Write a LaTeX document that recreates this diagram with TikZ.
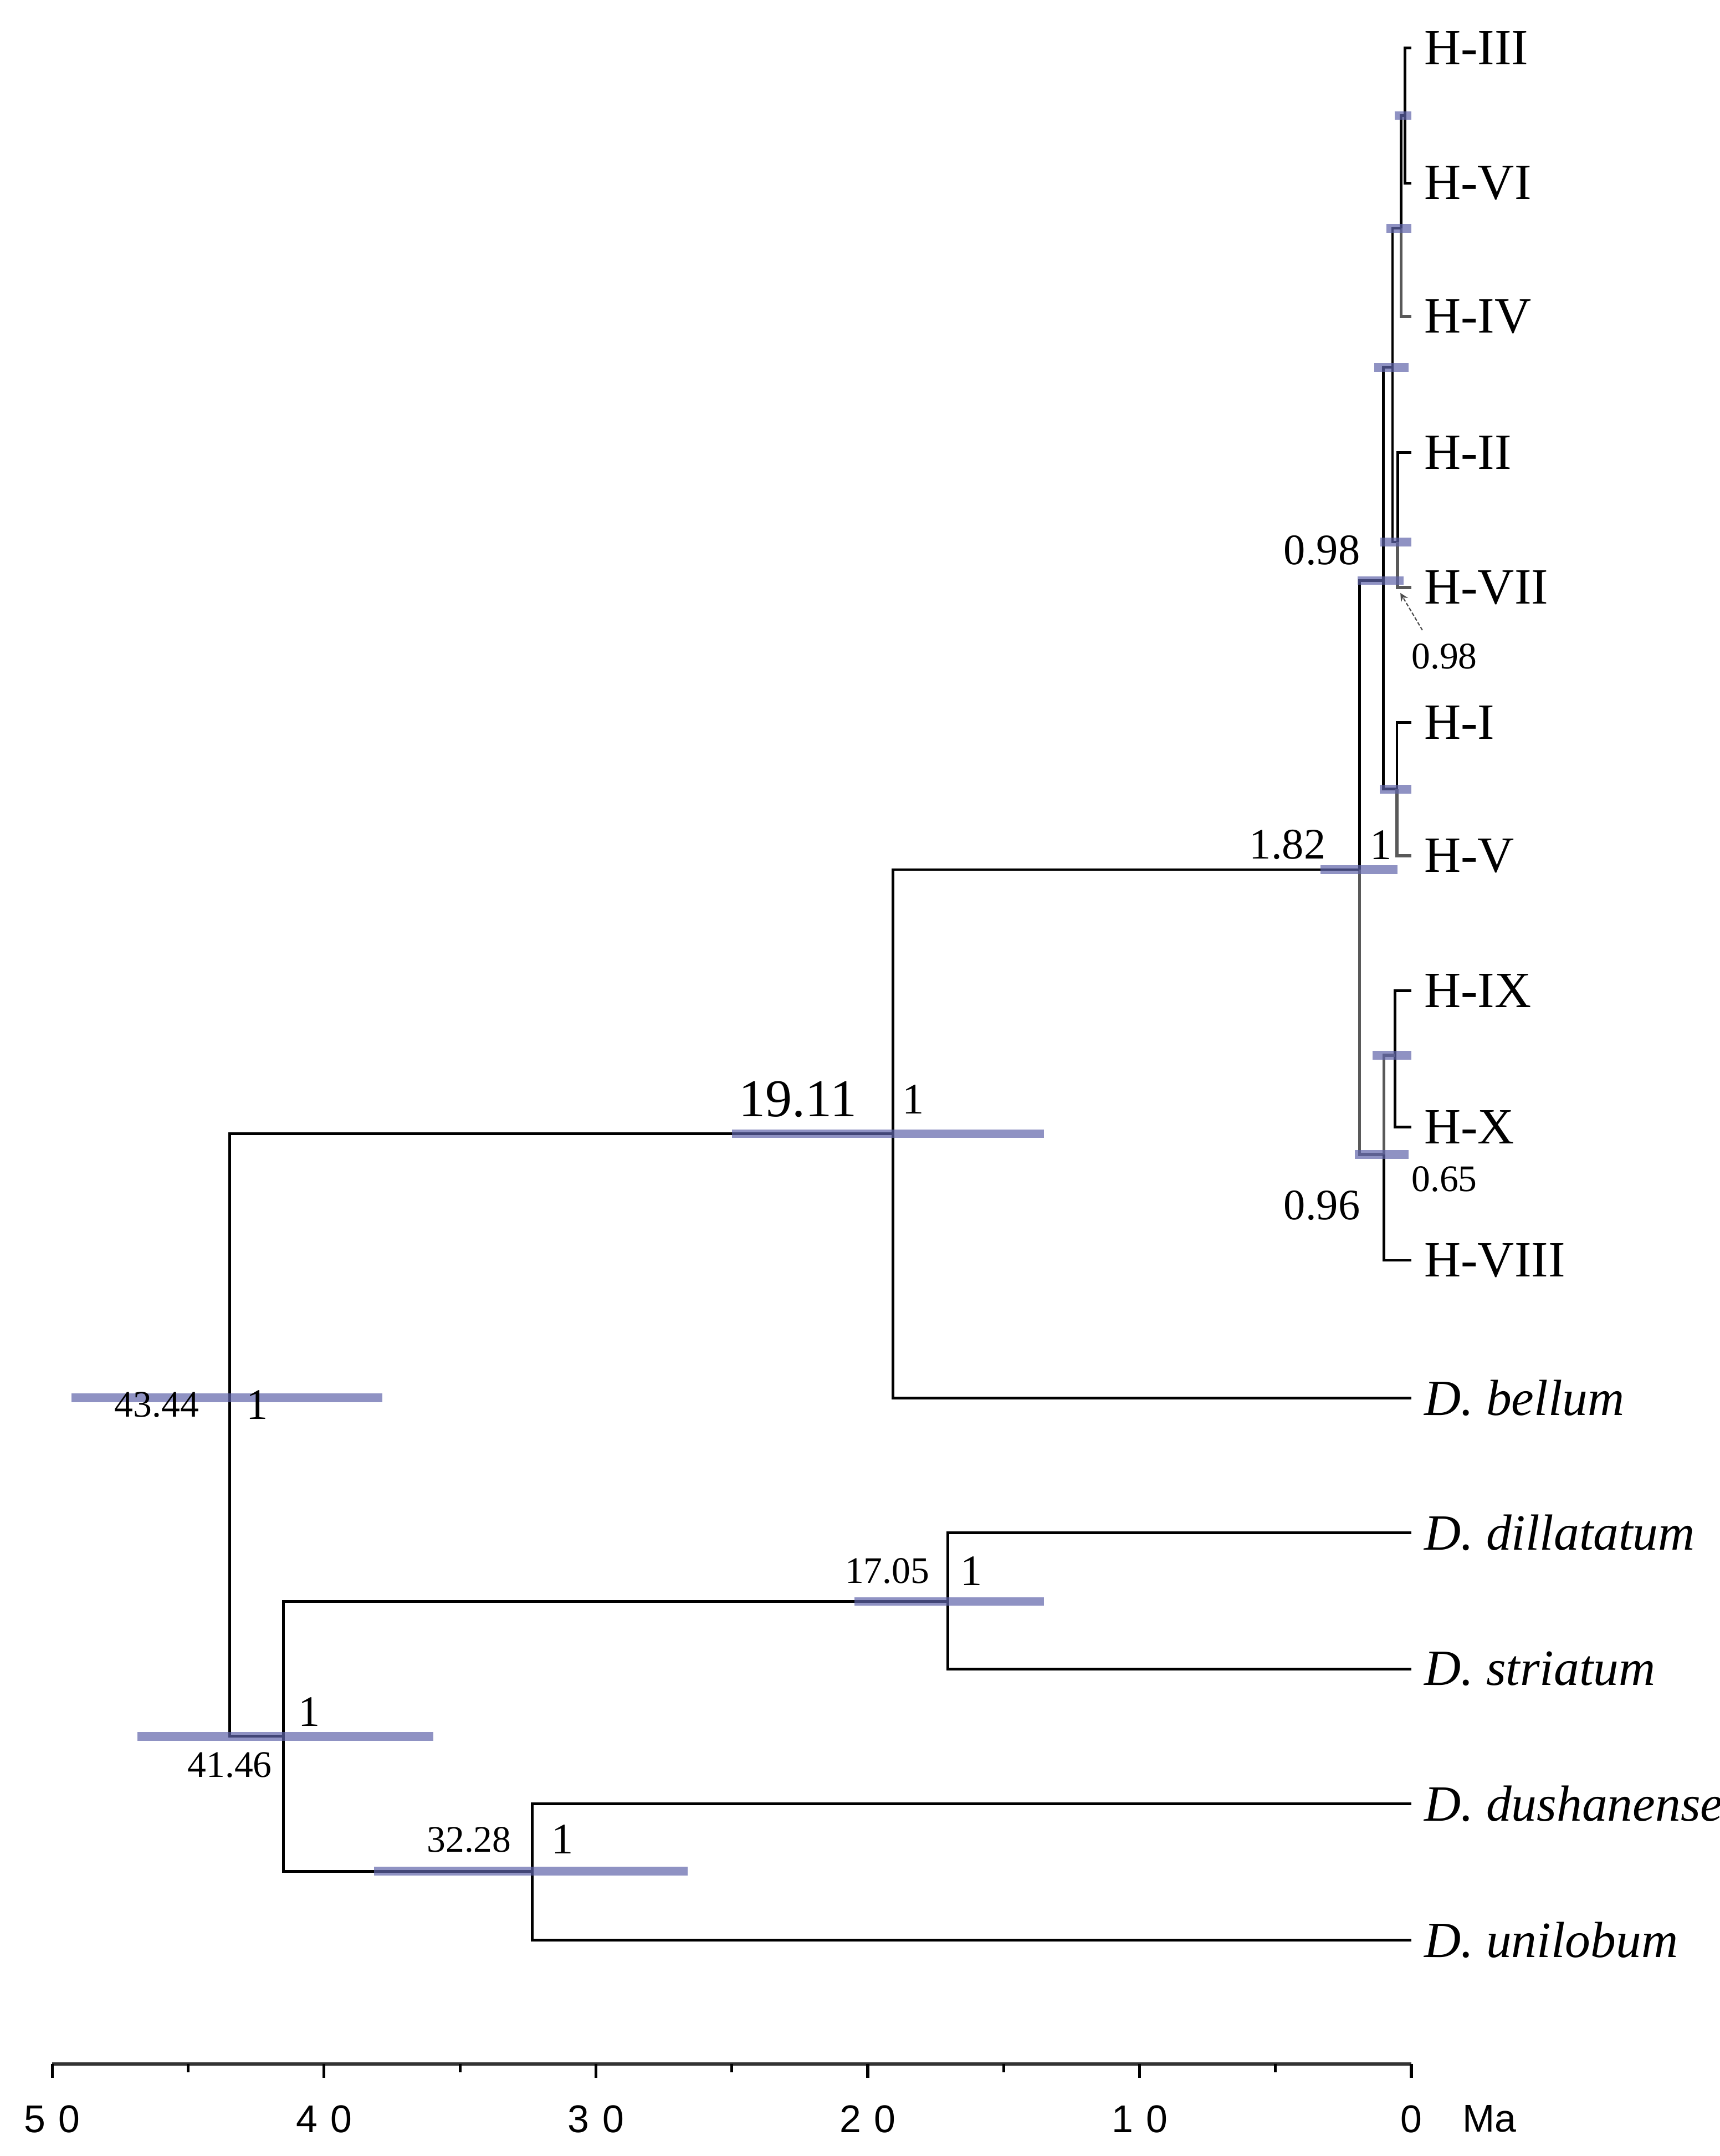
\documentclass[tikz,border=0pt]{standalone}
\usepackage{fontspec}
\setmainfont{Liberation Serif}
\newfontfamily\axfont{Liberation Sans}
\begin{document}
\begin{tikzpicture}[x=0.02cm,y=-0.02cm,
  br/.style={line width=1.1pt,black},
  gbr/.style={line width=1.3pt,black!65},
  hpd/.style={line width=3.6pt,color={rgb,255:red,95;green,100;blue,170},opacity=0.7},
  tip/.style={anchor=west,inner sep=0pt,font=\fontsize{21}{24}\selectfont},
  sp/.style={anchor=west,inner sep=0pt,font=\fontsize{21}{24}\selectfont\itshape},
  lab/.style={inner sep=0pt,font=\fontsize{15.5}{18}\selectfont},
  labb/.style={inner sep=0pt,font=\fontsize{18}{21}\selectfont},
  ax/.style={inner sep=0pt,font=\fontsize{16}{19}\selectfont\axfont}]
\useasboundingbox (0,0) rectangle (1250,1567);
% tips
\foreach \n/\y in {t1/35,t2/133,t3/230,t4/329,t5/427,t6/525,t7/622,t8/720,t9/819,t10/916,t11/1016,t12/1114,t13/1213,t14/1311,t15/1410}
  \coordinate (\n) at (1026,\y);
% internal nodes
\coordinate (A) at (1021.5,84);
\coordinate (B) at (1018.5,166);
\coordinate (C) at (1012.3,267);
\coordinate (D) at (1016,394);
\coordinate (E) at (1005.5,422);
\coordinate (G) at (1015.5,573.5);
\coordinate (F) at (988.3,632);
\coordinate (H) at (1006,839);
\coordinate (I) at (1014,767);
\coordinate (N19) at (649,824);
\coordinate (R) at (167,1016);
\coordinate (N41) at (206,1262);
\coordinate (N17) at (689,1164);
\coordinate (N32) at (387,1360);
% branches
\draw[br] (t1) -| (A); \draw[br] (t2) -| (A);
\draw[br] (A) -| (B); \draw[gbr] (t3) -| (B);
\draw[br] (B) -| (C); \draw[br] (D) -| (C);
\draw[br] (t4) -| (D); \draw[gbr] (t5) -| (D);
\draw[br] (C) -| (E); \draw[br] (G) -| (E);
\draw[br] (t6) -| (G); \draw[gbr] (t7) -| (G);
\draw[br] (E) -| (F); \draw[gbr] (H) -| (F);
\draw[br] (t8) -| (I); \draw[br] (t9) -| (I);
\draw[gbr] (I) -| (H); \draw[br] (t10) -| (H);
\draw[br] (F) -| (N19); \draw[br] (t11) -| (N19);
\draw[br] (N19) -| (R); \draw[br] (N41) -| (R);
\draw[br] (N17) -| (N41); \draw[br] (N32) -| (N41);
\draw[br] (t12) -| (N17); \draw[br] (t13) -| (N17);
\draw[br] (t14) -| (N32); \draw[br] (t15) -| (N32);
% HPD bars
\draw[hpd] (1013.7,84) -- (1026,84);
\draw[hpd] (1008,166) -- (1026,166);
\draw[hpd] (999,267) -- (1024,267);
\draw[hpd] (1003.4,394) -- (1026,394);
\draw[hpd] (987,422) -- (1020.5,422);
\draw[hpd] (1003,573.5) -- (1026,573.5);
\draw[hpd] (960,632) -- (1016,632);
\draw[hpd] (997.6,767) -- (1026,767);
\draw[hpd] (985,839) -- (1024,839);
\draw[hpd] (532,824) -- (759,824);
\draw[hpd] (52,1016) -- (278,1016);
\draw[hpd] (621,1164) -- (759,1164);
\draw[hpd] (100,1262) -- (315,1262);
\draw[hpd] (272,1360) -- (500,1360);
% tip labels
\node[tip] (l1) at (1035,35) {H-III};
\node[tip] (l2) at (1035,133) {H-VI};
\node[tip] (l3) at (1035,230) {H-IV};
\node[tip] (l4) at (1035,329) {H-II};
\node[tip] (l5) at (1035,427) {H-VII};
\node[tip] (l6) at (1035,525) {H-I};
\node[tip] (l7) at (1035,622) {H-V};
\node[tip] (l8) at (1035,720) {H-IX};
\node[tip] (l9) at (1035,819) {H-X};
\node[tip] (l10) at (1035,916) {H-VIII};
\node[sp] (l11) at (1035,1016) {D. bellum};
\node[sp] (l12) at (1035,1114) {D. dillatatum};
\node[sp] (l13) at (1035,1213) {D. striatum};
\node[sp] (l14) at (1035,1311) {D. dushanense};
\node[sp] (l15) at (1035,1410) {D. unilobum};
% node labels
\node[labb] (n098a) at (961,400) {0.98};
\node[lab] (n098b) at (1050,477) {0.98};
\coordinate (arrtip) at (1018,431);
\draw[->,>=stealth,line width=0.5pt,black!70,dash pattern=on 1.5pt off 0.8pt] (1034,458) -- (arrtip);
\node[labb] (n182) at (936,614) {1.82};
\node[labb] (n1a) at (1004,614) {1};
\node[labb] (n096) at (961,876) {0.96};
\node[lab] (n065) at (1050,857) {0.65};
\node[font=\fontsize{22}{25}\selectfont,inner sep=0pt] (n1911) at (580,799) {19.11};
\node[labb] (n1b) at (664,799) {1};
\node[lab] (n4344) at (114,1021) {43.44};
\node[labb] (n1c) at (187,1021) {1};
\node[lab] (n1705) at (645,1142) {17.05};
\node[labb] (n1d) at (706,1142) {1};
\node[lab] (n4146) at (167,1283) {41.46};
\node[labb] (n1e) at (225,1244) {1};
\node[lab] (n3228) at (341,1337) {32.28};
\node[labb] (n1f) at (409,1337) {1};
% axis
\draw[line width=1.3pt,black!80] (38,1500) -- (1026,1500);
\foreach \m in {0,10,20,30,40,50} \draw[line width=1.2pt] ({1026-19.76*\m},1500) -- ++(0,10);
\foreach \m in {5,15,25,35,45} \draw[line width=1.2pt] ({1026-19.76*\m},1500) -- ++(0,6);
\foreach \m/\t in {50/5\,\,0,40/4\,\,0,30/3\,\,0,20/2\,\,0,10/1\,\,0}
  \node[ax] at ({1026-19.76*\m},1540) {\t};
\node[ax] (z) at (1026,1540) {0};
\node[ax,anchor=west] (ma) at (1063,1540) {Ma};
\end{tikzpicture}
\end{document}
